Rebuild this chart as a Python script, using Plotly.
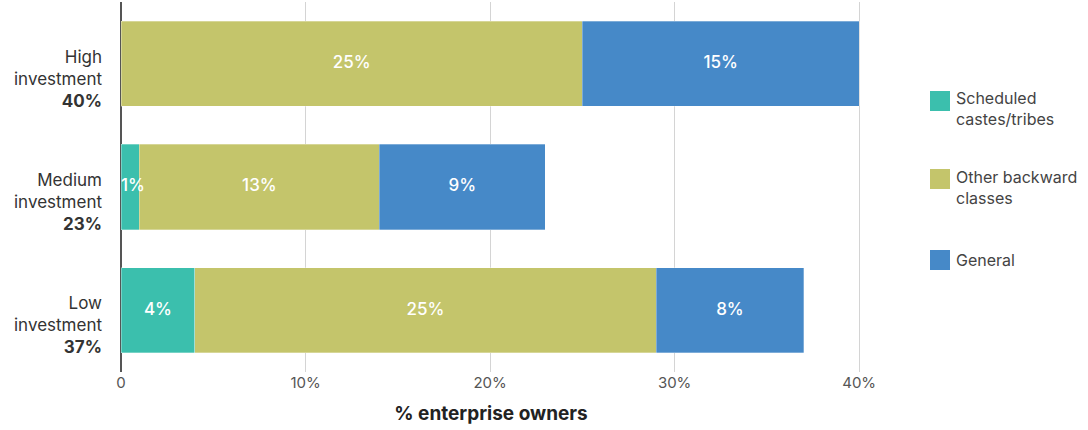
import plotly.graph_objects as go

# Investment tiers and social-group breakdown (% of enterprise owners)
categories = ["High investment", "Medium investment", "Low investment"]
category_labels = ["High<br>investment", "Medium<br>investment", "Low<br>investment"]
series_names = ["Scheduled<br>castes/tribes", "Other backward<br>classes", "General"]
scheduled = [0, 1, 4]
other_backward = [25, 13, 25]
general = [15, 9, 8]
x_ticks = [0, 10, 20, 30, 40]
x_tick_text = ["0", "10%", "20%", "30%", "40%"]

colors = ["#3bbfad", "#c4c56b", "#4689c8"]
series_values = [scheduled, other_backward, general]

totals = [s + o + g for s, o, g in zip(scheduled, other_backward, general)]
tick_text = [f"{lab}<br><b>{t}%</b>" for lab, t in zip(category_labels, totals)]

FONT = "Inter, 'Open Sans', sans-serif"

fig = go.Figure()
for name, vals, col in zip(series_names, series_values, colors):
    fig.add_trace(go.Bar(
        y=categories,
        x=vals,
        orientation="h",
        name=name,
        marker=dict(color=col, line=dict(color="rgba(255,255,255,0.6)", width=0.5)),
        showlegend=False,
        hoverinfo="skip",
    ))

# Segment value labels drawn above all bars: centred in the segment,
# or starting at its left edge when the segment is too narrow
label_x, label_y, label_text, label_pos = [], [], [], []
for i, cat in enumerate(categories):
    left = 0
    for vals in series_values:
        v = vals[i]
        if v > 0:
            narrow = v < 2
            label_x.append(left if narrow else left + v / 2)
            label_pos.append("middle right" if narrow else "middle center")
            label_y.append(cat)
            label_text.append(f"{v}%")
        left += v
fig.add_trace(go.Scatter(
    x=label_x, y=label_y, text=label_text, mode="text",
    textposition=label_pos,
    textfont=dict(family=FONT, size=17, color="white", weight=500),
    cliponaxis=False,
    showlegend=False, hoverinfo="skip",
))

# Legend drawn as swatches + labels to the right of the plot
plot_left, plot_right, plot_top, plot_bottom = 121, 861, 2, 372
pw, ph = plot_right - plot_left, plot_bottom - plot_top


def px_x(px):
    return (px - plot_left) / pw


def px_y(py):
    return (plot_bottom - py) / ph


legend_swatch_tops = [91, 169, 250]
legend_text_centers = [108.5, 187.5, 260]
for name, col, top, mid in zip(series_names, colors, legend_swatch_tops, legend_text_centers):
    fig.add_shape(type="rect", xref="paper", yref="paper",
                  x0=px_x(930), x1=px_x(950), y0=px_y(top + 20), y1=px_y(top),
                  fillcolor=col, line=dict(width=0))
    fig.add_annotation(xref="paper", yref="paper", x=px_x(954), y=px_y(mid),
                       xanchor="left", yanchor="middle", align="left",
                       text=name, showarrow=False,
                       font=dict(family=FONT, size=16, color="#444444"))

fig.update_layout(
    width=1088, height=430,
    margin=dict(l=plot_left, r=1088 - plot_right, t=plot_top, b=430 - plot_bottom),
    barmode="stack",
    bargap=0.31,
    plot_bgcolor="white",
    paper_bgcolor="white",
    font=dict(family=FONT, color="#333333"),
)
fig.update_xaxes(
    range=[0, 40.1],
    tickvals=x_ticks,
    ticktext=x_tick_text,
    tickfont=dict(family=FONT, size=15, color="#555555"),
    showgrid=True, gridcolor="#d4d4d4", gridwidth=1,
    zeroline=True, zerolinecolor="#555555", zerolinewidth=2,
    showline=False,
    title=dict(text="<b>% enterprise owners</b>", standoff=15,
               font=dict(family=FONT, size=19, color="#222222")),
)
fig.update_yaxes(
    categoryorder="array",
    categoryarray=categories[::-1],
    tickvals=categories,
    ticktext=tick_text,
    tickfont=dict(family=FONT, size=17, color="#333333"),
    ticklabelstandoff=18,
    ticklabelshift=15,
    showgrid=False,
    showline=False,
)

fig.write_html("out.html")
